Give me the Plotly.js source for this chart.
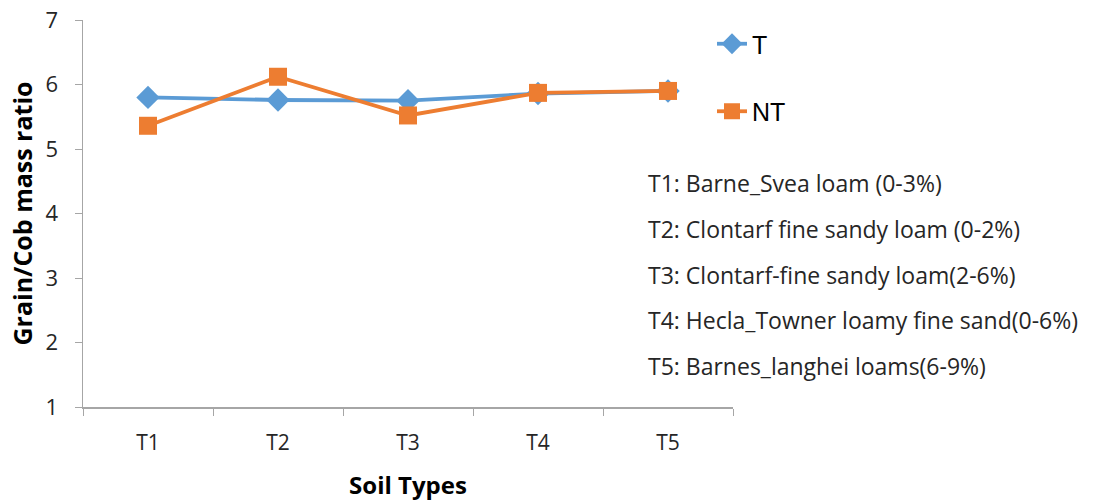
<!DOCTYPE html>
<html>
<head>
<meta charset="utf-8">
<script src="https://cdn.plot.ly/plotly-3.0.1.min.js"></script>
<style>
  html, body { margin: 0; padding: 0; background: #fff; }
  #chart { width: 1094px; height: 502px; }
</style>
</head>
<body>
<div id="chart"></div>
<script>
// Soil type categories along the x axis
const soilTypes = ["T1", "T2", "T3", "T4", "T5"];

// Grain/Cob mass ratio per treatment
const tValues  = [5.80, 5.76, 5.75, 5.86, 5.90];
const ntValues = [5.36, 6.12, 5.52, 5.87, 5.90];

// Soil descriptions listed beside the plot
const soilNotes = [
  "T1: Barne_Svea loam (0-3%)",
  "T2: Clontarf fine sandy loam (0-2%)",
  "T3: Clontarf-fine sandy loam(2-6%)",
  "T4: Hecla_Towner loamy fine sand(0-6%)",
  "T5: Barnes_langhei loams(6-9%)"
];

const FONT = "Open Sans, Liberation Sans, sans-serif";
const axisGrey = "#a6a6a6";

const traces = [
  {
    x: soilTypes, y: tValues, name: "T", type: "scatter", mode: "lines+markers",
    legendgroup: "a",
    line: { color: "#5b9bd5", width: 3.8 },
    marker: { symbol: "diamond", size: 18, color: "#5b9bd5" }
  },
  {
    x: soilTypes, y: ntValues, name: "NT", type: "scatter", mode: "lines+markers",
    legendgroup: "b",
    line: { color: "#ed7d31", width: 3.8 },
    marker: { symbol: "square", size: 18, color: "#ed7d31" }
  }
];

const noteTop = 183, noteStep = 45.8, plotTop = 20, plotH = 387;
const annotations = soilNotes.map((txt, i) => ({
  text: txt, xref: "paper", yref: "paper",
  x: (646 - 83) / 650, xanchor: "left",
  y: 1 - (noteTop + i * noteStep - plotTop) / plotH, yanchor: "middle",
  showarrow: false,
  font: { family: FONT, size: 23, color: "#262626" }
}));

const layout = {
  width: 1094, height: 502,
  margin: { l: 83, r: 361, t: 20, b: 95 },
  paper_bgcolor: "#fff", plot_bgcolor: "#fff",
  showlegend: true,
  legend: {
    x: (712 - 83) / 650, xanchor: "left",
    y: 1 - (21 - plotTop) / plotH, yanchor: "top",
    traceorder: "grouped", tracegroupgap: 32,
    font: { family: "Liberation Sans, Arial, sans-serif", size: 25, color: "#000" },
    bgcolor: "rgba(0,0,0,0)", itemwidth: 30
  },
  xaxis: {
    type: "category", range: [-0.5, 4.5],
    showline: true, linecolor: axisGrey, linewidth: 1.5,
    ticks: "outside", tickson: "boundaries", ticklen: 7, tickcolor: axisGrey,
    ticklabelstandoff: 16,
    showgrid: false, zeroline: false,
    tickfont: { family: FONT, size: 21, color: "#262626" },
    title: { text: "<b>Soil Types</b>", font: { family: FONT, size: 24, color: "#000" }, standoff: 22 }
  },
  yaxis: {
    range: [1, 7], dtick: 1,
    showline: true, linecolor: axisGrey, linewidth: 1.5,
    ticks: "outside", ticklen: 7, tickcolor: axisGrey,
    ticklabelstandoff: 12,
    showgrid: false, zeroline: false,
    tickfont: { family: FONT, size: 22, color: "#262626" },
    title: { text: "<b>Grain/Cob mass ratio</b>", font: { family: FONT, size: 25, color: "#000" }, standoff: 6 }
  },
  annotations: annotations
};

Plotly.newPlot("chart", traces, layout, { displayModeBar: false, staticPlot: true });
</script>
</body>
</html>
